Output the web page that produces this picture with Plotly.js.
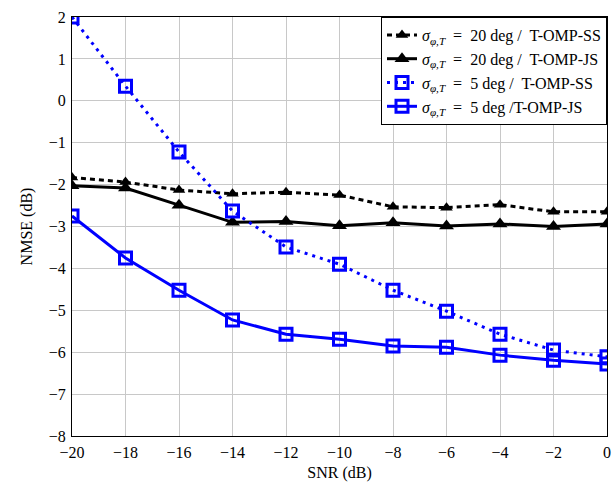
<!DOCTYPE html>
<html>
<head>
<meta charset="utf-8">
<script src="https://cdn.plot.ly/plotly-3.0.1.min.js"></script>
<style>html,body{margin:0;padding:0;background:#fff;}#chart{width:613px;height:483px;}</style>
</head>
<body>
<div id="chart"></div>
<script>
const snr = [-20, -18, -16, -14, -12, -10, -8, -6, -4, -2, 0];
const ss20 = [-1.83, -1.94, -2.13, -2.22, -2.18, -2.25, -2.53, -2.55, -2.48, -2.65, -2.65];
const js20 = [-2.03, -2.08, -2.49, -2.90, -2.88, -2.98, -2.91, -2.99, -2.94, -3.00, -2.94];
const ss5 = [2.0, 0.35, -1.22, -2.63, -3.49, -3.90, -4.52, -5.02, -5.57, -5.95, -6.11];
const js5 = [-2.75, -3.75, -4.52, -5.23, -5.57, -5.69, -5.85, -5.88, -6.07, -6.19, -6.28];
const names = [
  '<i>σ</i><sub><i>φ,T</i></sub>  =  20 deg /  T-OMP-SS',
  '<i>σ</i><sub><i>φ,T</i></sub>  =  20 deg /  T-OMP-JS',
  '<i>σ</i><sub><i>φ,T</i></sub>  =  5 deg /  T-OMP-SS',
  '<i>σ</i><sub><i>φ,T</i></sub>  =  5 deg /T-OMP-JS'
];
const FONT = 'Liberation Serif, DejaVu Serif, serif';
const traces = [
  {x: snr, y: ss20, name: names[0], mode: 'lines+markers',
   line: {color: 'black', width: 3, dash: '5px,4px'},
   marker: {symbol: 'triangle-up', size: 11, color: 'black'}},
  {x: snr, y: js20, name: names[1], mode: 'lines+markers',
   line: {color: 'black', width: 3},
   marker: {symbol: 'triangle-up', size: 13, color: 'black'}},
  {x: snr, y: ss5, name: names[2], mode: 'lines+markers',
   line: {color: '#0000ff', width: 3, dash: '3px,5px'},
   marker: {symbol: 'square-open', size: 12, color: '#0000ff', line: {width: 3, color: '#0000ff'}}},
  {x: snr, y: js5, name: names[3], mode: 'lines+markers',
   line: {color: '#0000ff', width: 3},
   marker: {symbol: 'square-open', size: 12, color: '#0000ff', line: {width: 3, color: '#0000ff'}}}
];
const axisCommon = {
  showline: true, mirror: true, linecolor: 'black', linewidth: 1,
  showgrid: true, gridcolor: '#c8c8c8', gridwidth: 1,
  zeroline: false, ticks: 'outside', ticklen: 2, tickcolor: 'white',
  tickfont: {family: FONT, size: 16, color: 'black'}
};
const layout = {
  width: 613, height: 483,
  margin: {l: 72, r: 6, t: 17, b: 47},
  paper_bgcolor: 'white', plot_bgcolor: 'white',
  font: {family: FONT, color: 'black'},
  xaxis: Object.assign({}, axisCommon, {
    range: [-20, 0], dtick: 2, tick0: 0,
    title: {text: 'SNR (dB)', font: {family: FONT, size: 16}, standoff: 6}
  }),
  yaxis: Object.assign({}, axisCommon, {
    range: [-8, 2], dtick: 1, tick0: 0,
    title: {text: 'NMSE (dB)', font: {family: FONT, size: 16}, standoff: 12}
  }),
  legend: {
    x: 1, y: 1, xanchor: 'right', yanchor: 'top',
    bgcolor: 'white', bordercolor: 'black', borderwidth: 1,
    font: {family: FONT, size: 16, color: 'black'},
    tracegroupgap: 0, itemwidth: 30
  },
  showlegend: true
};
Plotly.newPlot('chart', traces, layout, {displayModeBar: false, staticPlot: true});
</script>
</body>
</html>
